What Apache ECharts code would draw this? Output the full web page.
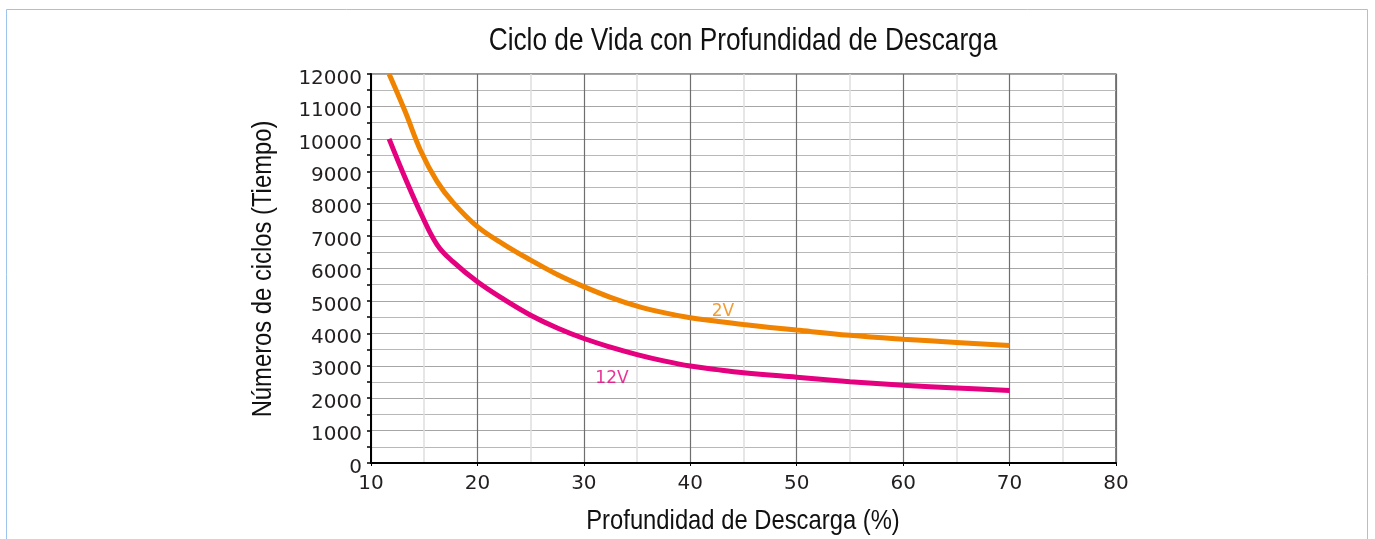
<!DOCTYPE html>
<html>
<head>
<meta charset="utf-8">
<script src="https://cdn.jsdelivr.net/npm/echarts@6/dist/echarts.min.js"></script>
<style>
html,body{margin:0;padding:0;background:#fff;}
#c{width:1375px;height:539px;}
</style>
</head>
<body>
<div id="c"></div>
<script>
// Depth of discharge (%) and cycle counts
const xDepth = [11.7, 13.2, 14.7, 16.2, 17.7, 20, 22.5, 25, 27.5, 30, 32.5, 35, 37.5, 40, 42.5, 45, 50, 55, 60, 65, 70];
const y2V = [12000, 10850, 9610, 8690, 8040, 7290, 6740, 6260, 5815, 5440, 5110, 4840, 4640, 4480, 4370, 4270, 4100, 3940, 3820, 3720, 3625];
const y12V = [10000, 8800, 7690, 6740, 6210, 5590, 5045, 4560, 4165, 3840, 3575, 3345, 3150, 2990, 2880, 2785, 2645, 2510, 2400, 2315, 2235];
const seriesNames = ['2V', '12V'];
const labelPos = [[43.07, 4660], [32.64, 2615]];
const xTicks = [10, 20, 30, 40, 50, 60, 70, 80];
const yTicks = [0, 1000, 2000, 3000, 4000, 5000, 6000, 7000, 8000, 9000, 10000, 11000, 12000];
const titleText = 'Ciclo de Vida con Profundidad de Descarga';
const xName = 'Profundidad de Descarga (%)';
const yName = 'Números de ciclos (Tiempo)';

const zip = (a, b) => a.map((v, i) => [v, b[i]]);
const colors = ['#f08300', '#e4007f'];
const sans = '"Liberation Sans", Arial, sans-serif';
const tickFont = '"DejaVu Sans", Verdana, sans-serif';

const chart = echarts.init(document.getElementById('c'), null, {renderer: 'canvas'});
chart.setOption({
  animation: false,
  backgroundColor: '#fff',
  graphic: [
    {type: 'rect', shape: {x: 6.5, y: 9.5, width: 1361, height: 560},
     style: {fill: 'none', stroke: '#9cc4ec', lineWidth: 1}, silent: true, z: -10},
    {type: 'text', x: 743, y: 41, scaleX: 0.82, silent: true,
     style: {text: titleText, x: 0, y: 0, align: 'center', verticalAlign: 'middle',
             font: '32px ' + sans, fill: '#111'}},
    {type: 'text', x: 743, y: 521, scaleX: 0.85, silent: true,
     style: {text: xName, x: 0, y: 0, align: 'center', verticalAlign: 'middle',
             font: '28px ' + sans, fill: '#111'}},
    {type: 'text', x: 263, y: 269, rotation: Math.PI / 2, scaleX: 0.85, silent: true,
     style: {text: yName, x: 0, y: 0, align: 'center', verticalAlign: 'middle',
             font: '28px ' + sans, fill: '#111'}}
  ],
  grid: {left: 371, right: 259, top: 74, bottom: 76, show: true, borderColor: '#333', borderWidth: 1.2},
  xAxis: {
    type: 'value', min: xTicks[0], max: xTicks[xTicks.length - 1], interval: 10,
    axisLine: {show: true, onZero: false, lineStyle: {color: '#000', width: 2}},
    axisTick: {show: true, length: 3, lineStyle: {color: '#000'}},
    axisLabel: {fontFamily: tickFont, fontSize: 20, color: '#231f20', margin: 11,
                formatter: v => String(v)},
    splitLine: {show: true, lineStyle: {color: '#6e6e6e', width: 1.2}},
    minorTick: {show: false, splitNumber: 2},
    minorSplitLine: {show: true, lineStyle: {color: '#dedede', width: 1.5}}
  },
  yAxis: {
    type: 'value', min: yTicks[0], max: yTicks[yTicks.length - 1], interval: 1000,
    axisLine: {show: true, onZero: false, lineStyle: {color: '#000', width: 2}},
    axisTick: {show: true, length: 4, lineStyle: {color: '#000', width: 1.5}},
    minorTick: {show: true, splitNumber: 2, length: 4, lineStyle: {color: '#000', width: 1.5}},
    axisLabel: {fontFamily: tickFont, fontSize: 20, color: '#231f20', margin: 9,
                verticalAlign: 'top', lineHeight: 9, formatter: v => String(v)},
    splitLine: {show: true, lineStyle: {color: '#a6a6a6', width: 1}},
    minorSplitLine: {show: true, lineStyle: {color: '#b8b8b8', width: 1}}
  },
  series: [
    {name: seriesNames[0], type: 'line', data: zip(xDepth, y2V), smooth: 0.4,
     symbol: 'none', lineStyle: {color: colors[0], width: 5}, z: 5},
    {name: seriesNames[1], type: 'line', data: zip(xDepth, y12V), smooth: 0.4,
     symbol: 'none', lineStyle: {color: colors[1], width: 5}, z: 5},
    {type: 'scatter', symbolSize: 0, silent: true, z: 6,
     data: seriesNames.map((n, i) => ({value: labelPos[i], name: n,
       label: {show: true, position: 'inside', formatter: n, color: colors[i],
               fontFamily: tickFont, fontSize: 17}}))}
  ]
});
</script>
</body>
</html>
